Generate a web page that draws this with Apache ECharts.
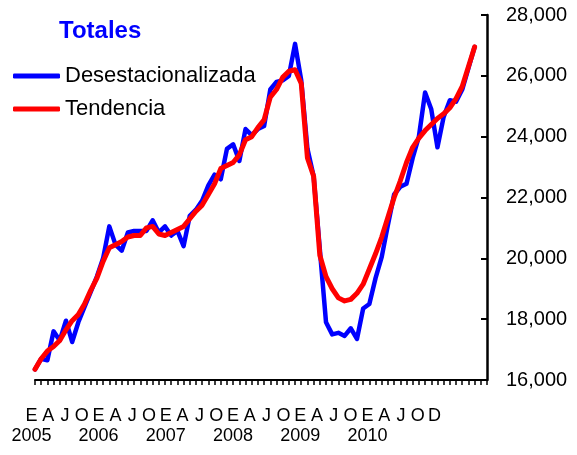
<!DOCTYPE html>
<html>
<head>
<meta charset="utf-8">
<script src="https://cdn.jsdelivr.net/npm/echarts@6/dist/echarts.min.js"></script>
<style>
  html, body { margin: 0; padding: 0; background: #fff; }
  #chart { width: 577px; height: 455px; }
</style>
</head>
<body>
<div id="chart"></div>
<script>
// serie mensual ene-2005 .. dic-2010
var years = ['2005', '2006', '2007', '2008', '2009', '2010'];
var monthLetters = ['E', 'A', 'J', 'O'];
var lastLetter = 'D';

var desestacionalizada = [
    16350, 16700, 16650, 17600, 17300, 17950, 17250, 17900, 18400, 18900, 19400, 20000,
    21050, 20450, 20250, 20850, 20900, 20900, 20900, 21250, 20850, 21050, 20750, 20900,
    20400, 21400, 21600, 21900, 22400, 22750, 22600, 23600, 23750, 23200, 24250, 24050,
    24250, 24350, 25550, 25800, 25850, 26000, 27050, 25850, 23600, 22700, 20300, 17900,
    17500, 17550, 17450, 17700, 17350, 18350, 18500, 19350, 20050, 21100, 22100, 22350,
    22450, 23300, 24000, 25450, 24900, 23650, 24650, 25200, 25150, 25550, 26250, 26950
];

var tendencia = [
    16350, 16700, 16950, 17100, 17300, 17650, 17950, 18150, 18500, 18950, 19350, 19900,
    20350, 20450, 20550, 20700, 20750, 20750, 21000, 21050, 20800, 20750, 20850, 20950,
    21050, 21300, 21550, 21750, 22100, 22450, 22950, 23050, 23150, 23400, 23900, 24000,
    24300, 24550, 25300, 25550, 25950, 26150, 26200, 25750, 23300, 22700, 20100, 19400,
    19000, 18700, 18600, 18650, 18850, 19150, 19650, 20150, 20700, 21350, 22000, 22550,
    23150, 23650, 23950, 24200, 24400, 24600, 24750, 24950, 25250, 25650, 26300, 26950
];

// el eje llega dos meses mas alla del ultimo dato
var months = [];
for (var y = 2005; y <= 2011; y++) {
    for (var m = 1; m <= 12; m++) {
        if (y == 2011 && m > 2) break;
        months.push(y + '-' + (m < 10 ? '0' + m : m));
    }
}

// rotulos del eje: E A J O por anio, con el anio bajo la E
var tickLabels = [];
for (var i = 0; i < years.length; i++) {
    for (var j = 0; j < monthLetters.length; j++) {
        tickLabels.push(j == 0 ? monthLetters[j] + '\n' + years[i] : monthLetters[j]);
    }
}
tickLabels.push(lastLetter);

var font = 'Liberation Sans, Arial, sans-serif';

var chart = echarts.init(document.getElementById('chart'));
chart.setOption({
    animation: false,
    backgroundColor: '#fff',
    title: {
        text: 'Totales',
        left: 54,
        top: 14,
        textStyle: {color: '#0000ff', fontSize: 24, fontWeight: 'bold', fontFamily: font}
    },
    legend: {
        orient: 'vertical',
        left: 13,
        top: 64,
        padding: 0,
        itemWidth: 47,
        itemHeight: 5,
        itemGap: 9,
        icon: 'roundRect',
        textStyle: {color: '#000', fontSize: 22, fontFamily: font, lineHeight: 24},
        data: ['Desestacionalizada', 'Tendencia']
    },
    grid: [
        {left: 35, right: 90, top: 15, bottom: 75},
        {left: 23, width: 420, top: 402, height: 1}
    ],
    xAxis: [
        {
            type: 'category',
            data: months,
            boundaryGap: false,
            axisLine: {lineStyle: {color: '#000', width: 2}},
            axisTick: {interval: 0, length: 5, lineStyle: {color: '#000', width: 1.5}},
            axisLabel: {show: false},
            splitLine: {show: false}
        },
        {
            gridIndex: 1,
            type: 'category',
            data: tickLabels,
            boundaryGap: true,
            axisLine: {show: false},
            axisTick: {show: false},
            axisLabel: {
                interval: 0,
                margin: 3,
                color: '#000',
                fontSize: 18,
                lineHeight: 20,
                fontFamily: font
            }
        }
    ],
    yAxis: [
        {
            type: 'value',
            position: 'right',
            min: 16000,
            max: 28000,
            interval: 2000,
            axisLine: {show: true, lineStyle: {color: '#000', width: 2.5}},
            axisTick: {show: true, inside: true, length: 6, lineStyle: {color: '#000', width: 2}},
            axisLabel: {
                margin: 19,
                color: '#000',
                fontSize: 20,
                fontFamily: font,
                formatter: function (v) {
                    return String(v).replace(/\B(?=(\d{3})+(?!\d))/g, ',');
                }
            },
            splitLine: {show: false}
        },
        {gridIndex: 1, type: 'value', show: false}
    ],
    series: [
        {
            name: 'Desestacionalizada',
            type: 'line',
            data: desestacionalizada,
            symbol: 'none',
            color: '#0000ff',
            lineStyle: {color: '#0000ff', width: 4.5, cap: 'round', join: 'round'},
            z: 2
        },
        {
            name: 'Tendencia',
            type: 'line',
            data: tendencia,
            symbol: 'none',
            color: '#ff0000',
            lineStyle: {color: '#ff0000', width: 5, cap: 'round', join: 'round'},
            z: 3
        }
    ]
});
window.addEventListener('resize', function () {
    chart.resize();
});
</script>
</body>
</html>
